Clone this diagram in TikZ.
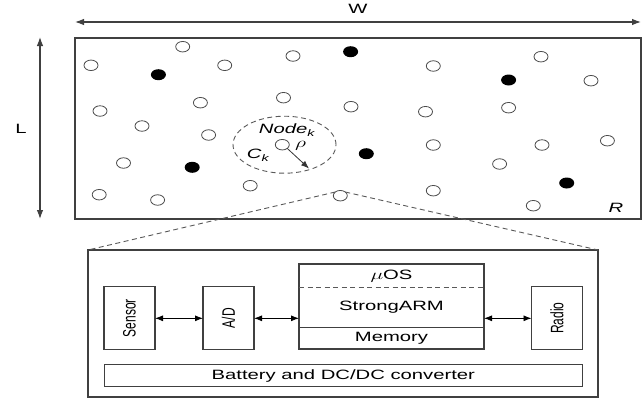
\documentclass[tikz,border=0pt]{standalone}
\usepackage{fontspec}
\setmainfont{Liberation Sans}
\usepackage{graphicx}
\usetikzlibrary{arrows.meta,shapes.geometric,calc}
\newcommand\sx[1]{\scalebox{1.5}[1]{#1}}
\newcommand\sy[1]{\scalebox{1}[1.5]{#1}}
\begin{document}
\begin{tikzpicture}[x=1pt,y=-1pt,
  every node/.style={inner sep=0pt, outer sep=0pt, font=\fontsize{13.5}{15}\selectfont},
  box/.style={draw=black!75, line width=1.1pt},
  odot/.style={ellipse, draw=black!70, line width=0.8pt, minimum width=14pt, minimum height=10.5pt},
  fdot/.style={ellipse, fill=black, minimum width=15pt, minimum height=11pt},
  dsh/.style={draw=black!65, line width=0.9pt, dash pattern=on 5pt off 3.5pt},
  tip/.style={-{Latex[length=8pt,width=6pt]}},
  bi/.style={{Latex[length=8pt,width=6pt]}-{Latex[length=8pt,width=6pt]}, line width=0.8pt},
  dimarr/.style={{Latex[length=9pt,width=6.5pt]}-{Latex[length=9pt,width=6.5pt]}, black!75, line width=1.1pt},
  rot/.style={rotate=90, font=\fontsize{12}{13}\selectfont}]
\useasboundingbox (0,0) rectangle (644,397);
% dimension arrows
\coordinate (wl) at (75,22);
\coordinate (wr) at (641,22);
\draw[dimarr] (wl) -- (wr);
\node (W) at (358,9) {\sx{W}};
\coordinate (lt) at (40,37);
\coordinate (lb) at (40,219);
\draw[dimarr] (lt) -- (lb);
\node (L) at (21,129) {\sx{L}};
% field
\node[box, minimum width=566pt, minimum height=181pt] (field) at (358,128.5) {};
\node (R) at (616,208) {\sx{\textit{R}}};
% open nodes
\foreach \x/\y [count=\i] in {182.7/46.7, 91/65.3, 224.7/65.3, 293/56, 433.3/66, 541/56.7, 591/80.7,
  200.4/102.7, 283.5/97.7, 351/106.7, 425.5/111.7, 508.6/107.7, 100/111, 142/126, 208.6/135,
  433.3/145, 542/145, 607.4/140.7, 123.5/163, 499.6/164, 250.2/185.7, 99.2/194.7, 157.6/200,
  433.3/190.7, 533.3/205.7}
  \node[odot] (o\i) at (\x,\y) {};
\node[odot] (nodek) at (282.3,144.7) {};
\node[odot] (tap) at (340.3,195.7) {};
% filled nodes
\foreach \x/\y [count=\i] in {350.6/51.7, 158.4/74.7, 508.6/80, 366.3/153.7, 192.2/167.3, 566.7/183}
  \node[fdot] (f\i) at (\x,\y) {};
% coverage circle
\node[ellipse, dsh, minimum width=103pt, minimum height=57pt] (ck) at (284.5,144.7) {};
\node (nklabel) at (287,130) {\sx{\textit{Node}\raisebox{-2.5pt}{\fontsize{9.5}{9}\selectfont\textit{k}}}};
\node (cklabel) at (258,155.5) {\sx{\textit{C}\raisebox{-2.5pt}{\fontsize{9.5}{9}\selectfont\textit{k}}}};
\node (rho) at (300.5,146) {\sx{$\rho$}};
\coordinate (rhoend) at (309,168.5);
\draw[tip, black!80, line width=0.8pt] (nodek.south east) -- (rhoend);
% sensor unit
\node[box, minimum width=510pt, minimum height=147pt] (unit) at (343,323.5) {};
\draw[dsh] (tap.north west) -- (unit.north west);
\draw[dsh] (tap.north east) -- (unit.north east);
\node[box, minimum width=51pt, minimum height=63pt] (sensor) at (129.5,318.3) {};
\node[rot] at (sensor.center) {\sy{Sensor}};
\node[box, minimum width=51pt, minimum height=63pt] (ad) at (228.5,318.3) {};
\node[rot] at (ad.center) {\sy{A/D}};
\node[box, minimum width=185pt, minimum height=85pt] (main) at (391.5,306.5) {};
\draw[dsh] ($(main.north west)+(0,23.7)$) -- ($(main.north east)+(0,23.7)$);
\draw[black!75, line width=0.9pt] ($(main.north west)+(0,63.7)$) -- ($(main.north east)+(0,63.7)$);
\node (muos) at (391.5,276) {\sx{$\mu$OS}};
\node (sarm) at (391.5,307.5) {\sx{StrongARM}};
\node (mem) at (391.5,338.5) {\sx{Memory}};
\node[box, minimum width=51pt, minimum height=63pt] (radio) at (557,318.3) {};
\node[rot] at (radio.center) {\sy{Radio}};
\node[box, minimum width=478pt, minimum height=22pt] (batt) at (343.3,375.8) {};
\node at (batt.center) {\sx{Battery and DC/DC converter}};
% links
\draw[bi] (sensor.east) -- (ad.west);
\draw[bi] (ad.east) -- (ad.east -| main.west);
\draw[bi] (radio.west -| main.east) -- (radio.west);
\end{tikzpicture}
\end{document}
